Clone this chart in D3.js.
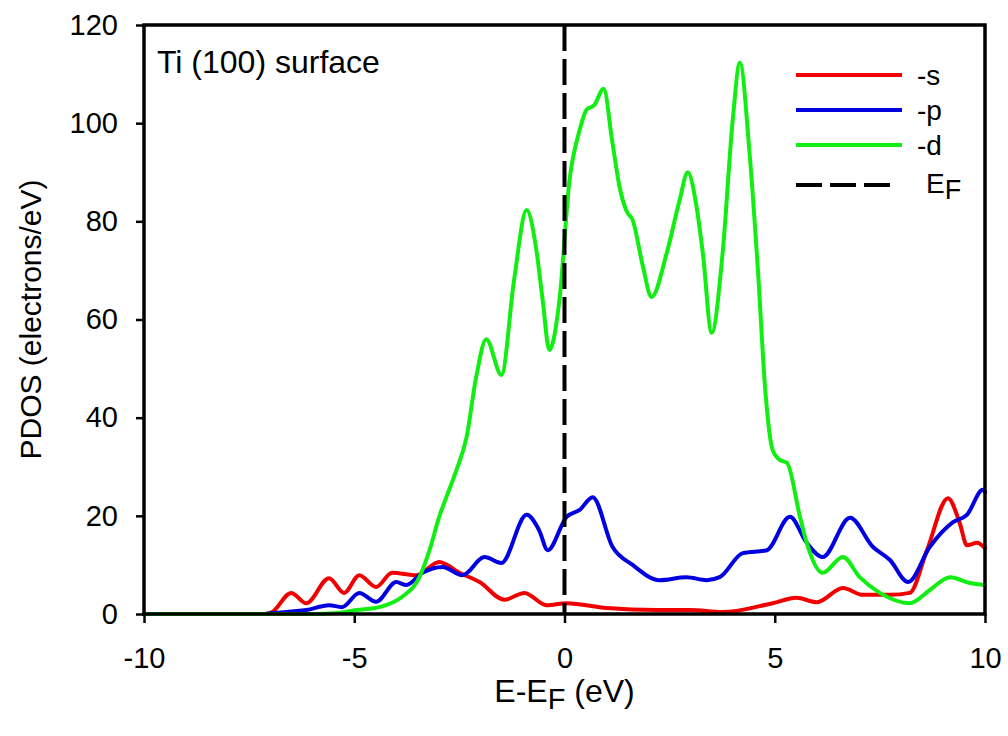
<!DOCTYPE html>
<html>
<head>
<meta charset="utf-8">
<script src="https://cdn.jsdelivr.net/npm/d3@7"></script>
<style>
  html, body { margin: 0; padding: 0; background: #fff; }
  svg { display: block; font-family: "Liberation Sans", Arial, sans-serif; }
</style>
</head>
<body>
<svg id="chart" width="1008" height="736"></svg>
<script>
// ---- data ----
const sE = [-10, -7.1, -6.95, -6.5, -6.14, -5.6, -5.24, -4.88, -4.48, -4.1, -3.52, -2.98, -2.5, -2.02, -1.43, -0.95, -0.43, 0.05, 1.0, 2.19, 2.98, 3.76, 4.95, 5.52, 6.0, 6.62, 7.1, 7.74, 8.21, 8.62, 9.12, 9.4, 9.57, 9.81, 10];
const sDOS = [0, 0, 0.4, 4.3, 2.2, 7.3, 4.3, 7.9, 5.5, 8.4, 7.9, 10.6, 8.4, 6.5, 2.9, 4.3, 1.8, 2.2, 1.2, 0.8, 0.8, 0.4, 2.2, 3.3, 2.4, 5.3, 3.9, 3.9, 4.3, 13, 23.6, 18.5, 14, 14.5, 13.4];

const pE = [-10, -7.2, -6.95, -6.14, -5.6, -5.29, -4.88, -4.48, -4.0, -3.76, -3.38, -2.9, -2.43, -1.9, -1.5, -0.9, -0.6, -0.4, 0.05, 0.36, 0.67, 1.14, 1.62, 2.26, 2.9, 3.38, 3.69, 4.24, 4.81, 5.36, 5.76, 6.14, 6.79, 7.33, 7.74, 8.17, 8.69, 9.24, 9.57, 9.95, 10];
const pDOS = [0, 0, 0.2, 0.8, 1.8, 1.4, 4.3, 2.5, 6.5, 5.9, 8.4, 9.6, 7.9, 11.6, 10.4, 20.2, 17, 13, 19.8, 21.2, 23.8, 13.7, 10, 6.9, 7.5, 6.9, 7.5, 12.4, 13, 19.8, 14.5, 11.6, 19.6, 13.7, 11, 6.5, 13.7, 18.7, 20.2, 25.3, 24.8];

const dE = [-10, -6, -5.4, -4.95, -4.4, -3.86, -3.45, -3.21, -2.98, -2.81, -2.57, -2.33, -2.1, -1.86, -1.5, -1.2, -0.9, -0.67, -0.52, -0.36, -0.12, 0.12, 0.36, 0.52, 0.71, 0.93, 1.14, 1.31, 1.48, 1.62, 1.86, 2.07, 2.43, 2.74, 2.93, 3.14, 3.29, 3.5, 3.76, 4.0, 4.17, 4.4, 4.6, 4.78, 4.95, 5.12, 5.29, 5.6, 5.76, 6.14, 6.62, 7.02, 7.5, 8.21, 8.69, 9.17, 9.64, 10];
const dDOS = [0, 0, 0.2, 0.8, 1.4, 3.5, 7.5, 13, 19.8, 23.8, 29.3, 36, 48.3, 56, 48.7, 68, 82.3, 74.2, 64, 53.8, 64, 88.4, 98.6, 102.7, 103.7, 107, 96, 87, 82, 80.3, 71, 64.6, 73.5, 84.4, 90, 83, 73.5, 57.3, 73.5, 100.6, 112.3, 94, 70, 45, 33.4, 31.4, 30.8, 19.8, 14.5, 8.4, 11.6, 7.5, 4.3, 2.2, 4.9, 7.5, 6.3, 5.9];

const seriesNames = ["-s", "-p", "-d"];
const seriesColors = ["#f00000", "#0000e0", "#11ee11"];
const xTicks = [-10, -5, 0, 5, 10];
const yTicks = [0, 20, 40, 60, 80, 100, 120];
const fermiLevel = 0;

// ---- layout ----
const svg = d3.select("#chart");
const plotLeft = 144, plotRight = 985, plotTop = 25, plotBottom = 614;

const x = d3.scaleLinear().domain([-10, 10]).range([plotLeft, plotRight]);
const y = d3.scaleLinear().domain([0, 120]).range([plotBottom, plotTop]);

const series = [
  { name: seriesNames[0], color: seriesColors[0], pts: sE.map((e, i) => [e, sDOS[i]]) },
  { name: seriesNames[1], color: seriesColors[1], pts: pE.map((e, i) => [e, pDOS[i]]) },
  { name: seriesNames[2], color: seriesColors[2], pts: dE.map((e, i) => [e, dDOS[i]]) }
];

const line = d3.line()
  .x(d => x(d[0]))
  .y(d => y(d[1]))
  .curve(d3.curveMonotoneX);

// curves
svg.append("g").selectAll("path")
  .data(series)
  .join("path")
  .attr("d", d => line(d.pts))
  .attr("fill", "none")
  .attr("stroke", d => d.color)
  .attr("stroke-width", 4)
  .attr("stroke-linejoin", "round")
  .attr("stroke-linecap", "round");

// Fermi level
svg.append("line")
  .attr("x1", x(fermiLevel)).attr("x2", x(fermiLevel))
  .attr("y1", y(120)).attr("y2", y(0))
  .attr("stroke", "#000")
  .attr("stroke-width", 4)
  .attr("stroke-dasharray", "26,8");

// frame
svg.append("rect")
  .attr("x", plotLeft).attr("y", plotTop)
  .attr("width", plotRight - plotLeft).attr("height", plotBottom - plotTop)
  .attr("fill", "none")
  .attr("stroke", "#000")
  .attr("stroke-width", 3.5);

// axes
const fmt = d => String(d);
const xAxis = d3.axisBottom(x).tickValues(xTicks).tickSize(9).tickPadding(24).tickFormat(fmt);
const yAxis = d3.axisLeft(y).tickValues(yTicks).tickSize(8).tickPadding(18).tickFormat(fmt);

const gx = svg.append("g").attr("transform", `translate(0,${plotBottom})`).call(xAxis);
const gy = svg.append("g").attr("transform", `translate(${plotLeft},0)`).call(yAxis);
[gx, gy].forEach(g => {
  g.select(".domain").remove();
  g.selectAll(".tick line").attr("stroke", "#000").attr("stroke-width", 2.5);
  g.selectAll(".tick text")
    .attr("fill", "#000")
    .style("font-family", "'Liberation Sans', Arial, sans-serif")
    .style("font-size", "29px");
});

// axis titles
const xt = svg.append("text")
  .attr("x", (plotLeft + plotRight) / 2)
  .attr("y", 702)
  .attr("text-anchor", "middle")
  .style("font-size", "32px")
  .attr("fill", "#000");
xt.append("tspan").text("E-E");
xt.append("tspan").attr("dy", 7).style("font-size", "29px").text("F");
xt.append("tspan").attr("dy", -7).text(" (eV)");

svg.append("text")
  .attr("transform", `translate(41,${(plotTop + plotBottom) / 2}) rotate(-90)`)
  .attr("text-anchor", "middle")
  .style("font-size", "30px")
  .attr("fill", "#000")
  .text("PDOS (electrons/eV)");

// annotation
svg.append("text")
  .attr("x", 157).attr("y", 73)
  .style("font-size", "32px")
  .attr("fill", "#000")
  .text("Ti (100) surface");

// legend
const legendY = [75, 110, 145, 185];
const lg = svg.append("g");
series.forEach((s, i) => {
  lg.append("line")
    .attr("x1", 796).attr("x2", 902)
    .attr("y1", legendY[i]).attr("y2", legendY[i])
    .attr("stroke", s.color).attr("stroke-width", 4);
  lg.append("text")
    .attr("x", 917).attr("y", legendY[i]).attr("dy", "0.35em")
    .style("font-size", "28px").attr("fill", "#000")
    .text(s.name);
});
lg.append("line")
  .attr("x1", 796).attr("x2", 890)
  .attr("y1", legendY[3]).attr("y2", legendY[3])
  .attr("stroke", "#000").attr("stroke-width", 4)
  .attr("stroke-dasharray", "26,8");
const ef = lg.append("text")
  .attr("x", 926).attr("y", legendY[3]).attr("dy", "0.3em")
  .style("font-size", "28px").attr("fill", "#000");
ef.append("tspan").text("E");
ef.append("tspan").attr("dy", 6).style("font-size", "27px").text("F");
</script>
</body>
</html>
